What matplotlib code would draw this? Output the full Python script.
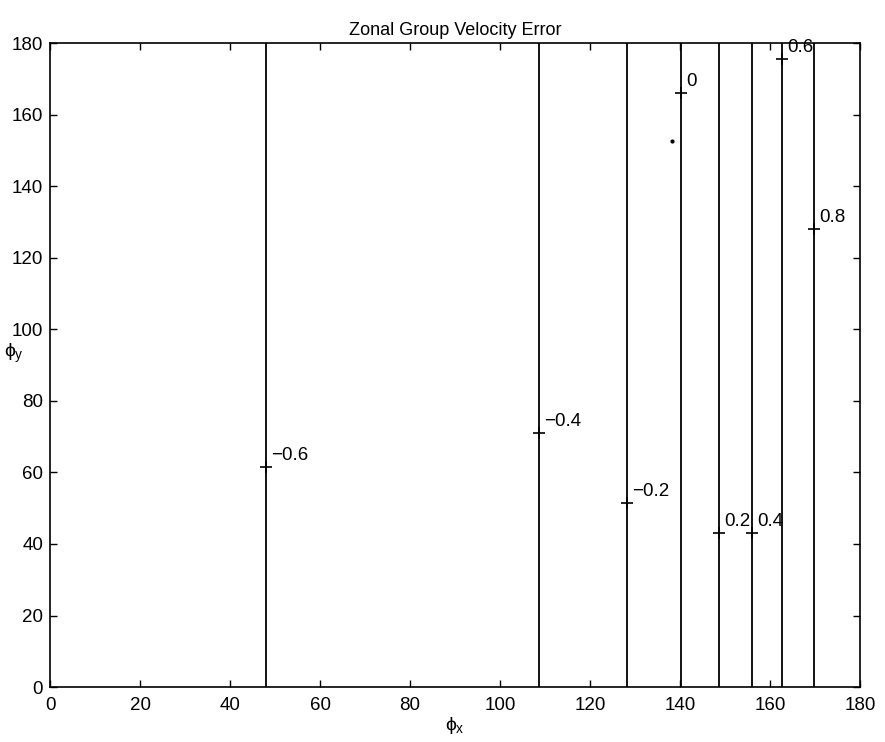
import numpy as np
import matplotlib
matplotlib.use('Agg')
import matplotlib.pyplot as plt

# contour levels and where each (vertical) contour sits on the phi_x axis
levels = [-0.6, -0.4, -0.2, 0.0, 0.2, 0.4, 0.6, 0.8]
level_x = [48.0, 108.7, 128.2, 140.2, 148.7, 156.0, 162.7, 169.8]
# where clabel put its '+' on each line
label_y = [61.5, 71.0, 51.5, 166.0, 43.0, 43.0, 175.5, 128.0]
label_txt = ['\u22120.6', '\u22120.4', '\u22120.2', '0', '0.2', '0.4', '0.6', '0.8']

# stray point left of the zero contour
dot_x = [138.2]
dot_y = [152.5]


def main() -> None:
    plt.rcParams['font.family'] = ['Liberation Sans', 'DejaVu Sans']
    plt.rcParams['mathtext.fontset'] = 'custom'
    plt.rcParams['mathtext.rm'] = 'Liberation Sans'
    plt.rcParams['mathtext.it'] = 'Liberation Sans'

    fig = plt.figure(figsize=(8.85, 7.42), dpi=100)
    ax = fig.add_axes([0.0565, 0.074, 0.9153, 0.868])

    ax.vlines(level_x, 0, 180, colors='black', linewidth=1.3)
    ax.plot(level_x, label_y, linestyle='none', marker='+',
            color='black', markersize=8, markeredgewidth=1.2)
    for x, y, s in zip(level_x, label_y, label_txt):
        ax.text(x + 1.2, y + 0.8, s, fontsize=13.5, ha='left', va='bottom')
    ax.plot(dot_x, dot_y, 'k.', markersize=4)

    ax.set_xlim(0, 180)
    ax.set_ylim(0, 180)
    ax.set_xticks(np.arange(0, 181, 20))
    ax.set_yticks(np.arange(0, 181, 20))
    ax.tick_params(direction='in', length=5, width=1, labelsize=13.5,
                   top=True, right=True)
    ax.tick_params(axis='x', pad=7)
    ax.tick_params(axis='y', pad=5)
    for sp in ax.spines.values():
        sp.set_linewidth(1.2)

    ax.set_title('Zonal Group Velocity Error', fontsize=13, pad=6)
    ax.set_xlabel(r'$\phi_\mathrm{x}$', fontsize=14, labelpad=1)
    ax.set_ylabel(r'$\phi_\mathrm{y}$', fontsize=14, rotation=0)
    ax.yaxis.set_label_coords(-0.045, 0.5)

    fig.savefig('out.png', dpi=100)
    plt.close(fig)


if __name__ == "__main__":
    main()
